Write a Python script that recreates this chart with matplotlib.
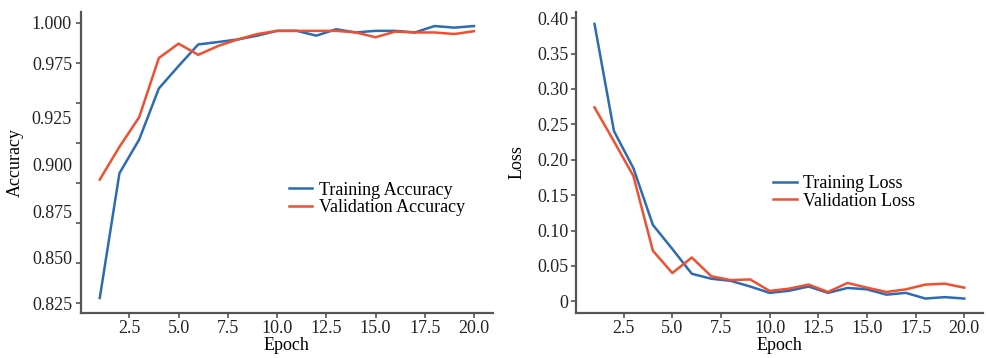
# plot.py
# Training / validation accuracy and loss curves over 20 epochs

import numpy as np
import matplotlib
matplotlib.use("Agg")
import matplotlib.pyplot as plt
from matplotlib.ticker import FixedLocator, FuncFormatter

# Data
epochs = list(range(1, 21))
train_acc = [0.828, 0.906, 0.927, 0.959, 0.973, 0.9865, 0.988, 0.9896, 0.992, 0.995,
             0.995, 0.992, 0.996, 0.994, 0.995, 0.995, 0.994, 0.998, 0.997, 0.998]
val_acc = [0.902, 0.9225, 0.941, 0.978, 0.987, 0.980, 0.9855, 0.9896, 0.993, 0.995,
           0.995, 0.995, 0.995, 0.994, 0.991, 0.9945, 0.994, 0.994, 0.993, 0.9948]
train_loss = [0.392, 0.2405, 0.188, 0.108, 0.074, 0.039, 0.032, 0.029, 0.021, 0.012,
              0.015, 0.021, 0.012, 0.019, 0.017, 0.0095, 0.012, 0.004, 0.006, 0.004]
val_loss = [0.274, 0.226, 0.177, 0.0715, 0.040, 0.062, 0.0355, 0.030, 0.031, 0.0147,
            0.018, 0.0237, 0.0133, 0.026, 0.0194, 0.0133, 0.017, 0.0237, 0.025, 0.0194]

# accuracy axis: tick marks on an even grid, labels printed where the figure shows them
acc_ticks = [0.825, 0.850, 0.875, 0.900, 0.925, 0.950, 0.975, 1.000]
acc_label_pos = [0.8248, 0.8536, 0.8823, 0.9117, 0.9411, 0.9748, 1.0004]
acc_labels = ["0.825", "0.850", "0.875", "0.900", "0.925", "0.975", "1.000"]
loss_ticks = [0, 0.05, 0.10, 0.15, 0.20, 0.25, 0.30, 0.35, 0.40]
epoch_ticks = [2.5, 5.0, 7.5, 10.0, 12.5, 15.0, 17.5, 20.0]

BLUE = "#2b6cb3"
RED = "#f04f30"
SPINE = "#555555"

plt.rcParams["font.family"] = ["Liberation Serif", "DejaVu Serif"]
plt.rcParams["font.size"] = 13


def style_axes(ax):
    for side in ["top", "right"]:
        ax.spines[side].set_visible(False)
    for side in ["left", "bottom"]:
        ax.spines[side].set_color(SPINE)
        ax.spines[side].set_linewidth(1.6)
    ax.tick_params(which="major", direction="out", length=3.5, width=1.2,
                   color=SPINE, labelcolor="#222222", pad=2)
    ax.set_xticks(epoch_ticks)
    ax.set_xticklabels(["%.1f" % t for t in epoch_ticks])
    ax.set_xlabel("Epoch", labelpad=0)


fig = plt.figure(figsize=(9.86, 3.58), dpi=100)
ax1 = fig.add_axes([0.0822, 0.1265, 0.4175, 0.8405])
ax2 = fig.add_axes([0.5842, 0.1265, 0.4125, 0.8405])

# Accuracy
ax1.plot(epochs, train_acc, color=BLUE, lw=1.8, label="Training Accuracy")
ax1.plot(epochs, val_acc, color=RED, lw=1.8, label="Validation Accuracy")
style_axes(ax1)
ax1.set_ylim(0.8188, 1.0069)
ax1.yaxis.set_major_locator(FixedLocator(acc_ticks))
ax1.yaxis.set_major_formatter(FuncFormatter(lambda v, p: ""))
ax1.yaxis.set_minor_locator(FixedLocator(acc_label_pos))
ax1.yaxis.set_minor_formatter(FuncFormatter(lambda v, p: acc_labels[p]))
ax1.tick_params(axis="y", which="minor", length=0, pad=6.5, labelcolor="#222222")
ax1.set_ylabel("Accuracy", labelpad=6)
ax1.legend(loc="center left", bbox_to_anchor=(0.505, 0.378), frameon=False,
           handlelength=1.3, handletextpad=0.35, labelspacing=0.05, borderpad=0,
           borderaxespad=0)

# Loss
ax2.plot(epochs, train_loss, color=BLUE, lw=1.8, label="Training Loss")
ax2.plot(epochs, val_loss, color=RED, lw=1.8, label="Validation Loss")
style_axes(ax2)
ax2.set_ylim(-0.016, 0.409)
ax2.set_yticks(loss_ticks)
ax2.yaxis.set_major_formatter(FuncFormatter(lambda v, p: "0" if abs(v) < 1e-9 else "%.2f" % v))
ax2.set_ylabel("Loss", labelpad=8)
ax2.legend(loc="center left", bbox_to_anchor=(0.485, 0.40), frameon=False,
           handlelength=1.3, handletextpad=0.35, labelspacing=0.05, borderpad=0,
           borderaxespad=0)

fig.savefig("out.png", dpi=100)
